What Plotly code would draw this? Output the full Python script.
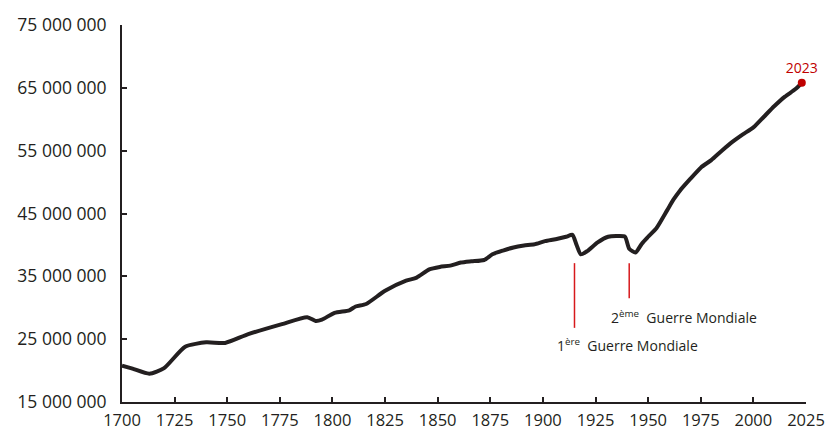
import plotly.graph_objects as go

years = [1700, 1705, 1713, 1720, 1730, 1740, 1749, 1760, 1776, 1788, 1792, 1795, 1801, 1808, 1811, 1816,
         1825, 1835, 1840, 1846, 1851, 1856, 1861, 1866, 1872, 1876, 1881, 1886, 1891, 1896, 1901,
         1906, 1911, 1914, 1916, 1918, 1921, 1926, 1931, 1936, 1939, 1941, 1944, 1947, 1950, 1954,
         1959, 1962, 1965, 1970, 1975, 1980, 1985, 1990, 1995, 2000, 2005, 2010, 2015, 2020, 2023]
population = [20.8, 20.3, 19.5, 20.4, 23.8, 24.5, 24.4, 25.8, 27.4, 28.5, 27.9, 28.1, 29.2, 29.6, 30.2, 30.6,
              32.7, 34.3, 34.8, 36.1, 36.5, 36.7, 37.2, 37.4, 37.6, 38.5, 39.1, 39.6, 39.9, 40.1, 40.6,
              40.9, 41.3, 41.6, 40.0, 38.5, 39.0, 40.4, 41.3, 41.4, 41.3, 39.4, 38.8, 40.2, 41.3, 42.7,
              45.5, 47.2, 48.6, 50.5, 52.3, 53.5, 55.0, 56.4, 57.6, 58.7, 60.4, 62.1, 63.6, 64.8, 65.8]
population = [p * 1e6 for p in population]

last_year = 2023
last_label = "2023"

x_ticks = list(range(1700, 2026, 25))
y_ticks = list(range(15_000_000, 75_000_001, 10_000_000))
y_tick_labels = ["15 000 000", "25 000 000", "35 000 000", "45 000 000", "55 000 000", "65 000 000", "75 000 000"]

wars = [
    {"year": 1915, "y0": 26.8e6, "y1": 37.1e6, "text": "1<sup>ère</sup>  Guerre Mondiale", "ty": 24.05e6, "tx": 1940},
    {"year": 1941, "y0": 31.5e6, "y1": 37.1e6, "text": "2<sup>ème</sup>  Guerre Mondiale", "ty": 28.5e6, "tx": 1967},
]

font_family = "Open Sans, Noto Sans, sans-serif"
ink = "#231f20"
red = "#c00000"

fig = go.Figure()
fig.add_trace(go.Scatter(
    x=years, y=population, mode="lines",
    line=dict(color=ink, width=4, shape="spline", smoothing=0.6),
    hoverinfo="skip", showlegend=False, cliponaxis=False,
))
fig.add_trace(go.Scatter(
    x=[last_year], y=[population[-1]], mode="markers+text",
    marker=dict(color=red, size=8),
    text=[last_label], textposition="top center",
    textfont=dict(color=red, size=14, family=font_family),
    showlegend=False, cliponaxis=False, hoverinfo="skip",
))

for w in wars:
    fig.add_shape(type="line", x0=w["year"], x1=w["year"], y0=w["y0"], y1=w["y1"],
                  line=dict(color="#d7191c", width=1.5))
    fig.add_annotation(x=w["tx"], y=w["ty"], text=w["text"], showarrow=False,
                       font=dict(size=14, color=ink, family=font_family))

fig.update_layout(
    width=827, height=432,
    margin=dict(l=122, r=21, t=25, b=30),
    plot_bgcolor="white", paper_bgcolor="white",
    font=dict(family=font_family, size=17.5, color=ink),
)
fig.update_xaxes(
    range=[1700, 2025], tickvals=x_ticks, ticks="inside", ticklen=5,
    tickcolor=ink, tickwidth=1.5, showline=True, linecolor=ink, linewidth=2,
    showgrid=False, zeroline=False, tickfont=dict(size=16.5), automargin=False,
    ticklabelstandoff=2,
)
fig.update_yaxes(
    range=[15_000_000, 75_000_000], tickvals=y_ticks, ticktext=y_tick_labels,
    ticks="inside", ticklen=5, tickcolor=ink, tickwidth=1.5, showline=True,
    linecolor=ink, linewidth=2, showgrid=False, zeroline=False,
    tickfont=dict(size=17.5), automargin=False, ticklabelstandoff=10,
)
fig.write_html(
    "out.html",
    config={"displayModeBar": False},
    post_script="document.body.style.margin='0';document.body.style.overflow='hidden';",
)
